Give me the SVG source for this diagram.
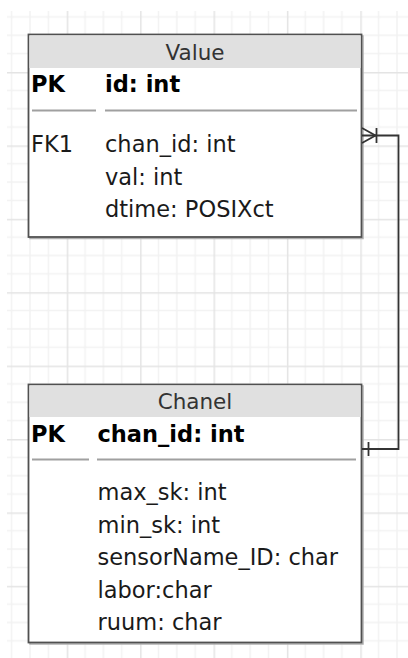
<svg xmlns="http://www.w3.org/2000/svg" width="408" height="658" viewBox="0 0 408 658">
  <defs>
    <pattern id="grid" x="-6.7" y="-1.4" width="73.4" height="73.4" patternUnits="userSpaceOnUse">
      <path d="M18.35 0V73.4M36.7 0V73.4M55.05 0V73.4M0 18.35H73.4M0 36.7H73.4M0 55.05H73.4" stroke="#f2f2f2" stroke-width="1.5" fill="none"/>
      <path d="M0.75 0V73.4M0 0.75H73.4" stroke="#e4e4e4" stroke-width="1.5" fill="none"/>
    </pattern>
    <style>
      .box{fill:#fff;stroke:#505050;stroke-width:1.8}
      .shadow{fill:none;stroke:#b0b0b0;stroke-width:1.5}
      .hdr{fill:#e0e0e0;stroke:none}
      .sep{stroke:#a0a0a0;stroke-width:2;fill:none}
      .t{font-family:"DejaVu Sans",Verdana,sans-serif;font-size:22.5px;fill:#1a1a1a}
      .b{font-weight:bold;fill:#000}
      .h{text-anchor:middle;fill:#333;font-size:21.5px}
      .conn{stroke:#333;stroke-width:1.8;fill:none}
    </style>
  </defs>
  <rect width="408" height="658" fill="#fff"/>
  <rect x="7" y="11" width="401" height="647" fill="url(#grid)"/>

  <g id="value">
    <rect class="shadow" x="30" y="36" width="333" height="202.5"/>
    <rect class="box" x="28.5" y="34.5" width="333" height="202.5"/>
    <rect class="hdr" x="29.4" y="35.4" width="331.2" height="32.6"/>
    <text class="t h" x="195" y="60">Value</text>
    <text class="t b" x="31" y="92">PK</text>
    <text class="t b" x="105" y="92">id: int</text>
    <line class="sep" x1="32" y1="110.5" x2="96" y2="110.5"/>
    <line class="sep" x1="105" y1="110.5" x2="357" y2="110.5"/>
    <text class="t" x="31" y="152">FK1</text>
    <text class="t" x="105" y="152">chan_id: int</text>
    <text class="t" x="105" y="184.5">val: int</text>
    <text class="t" x="105" y="217">dtime: POSIXct</text>
  </g>

  <g id="chanel">
    <rect class="shadow" x="30" y="386" width="333" height="258"/>
    <rect class="box" x="28.5" y="384.5" width="333" height="258"/>
    <rect class="hdr" x="29.4" y="385.4" width="331.2" height="31.6"/>
    <text class="t h" x="195" y="409">Chanel</text>
    <text class="t b" x="31" y="442">PK</text>
    <text class="t b" x="97.5" y="442">chan_id: int</text>
    <line class="sep" x1="32" y1="459.5" x2="89" y2="459.5"/>
    <line class="sep" x1="97" y1="459.5" x2="356" y2="459.5"/>
    <text class="t" x="97.5" y="500">max_sk: int</text>
    <text class="t" x="97.5" y="532.5">min_sk: int</text>
    <text class="t" x="97.5" y="565">sensorName_ID: char</text>
    <text class="t" x="97.5" y="597.5">labor:char</text>
    <text class="t" x="97.5" y="630">ruum: char</text>
  </g>

  <g id="connectors">
    <path class="conn" d="M362 135.5H398.5V449H362"/>
    <path class="conn" d="M362 128L375.5 135.5L362 143M376.5 128V143"/>
    <path class="conn" d="M368.5 442V456"/>
  </g>
</svg>
